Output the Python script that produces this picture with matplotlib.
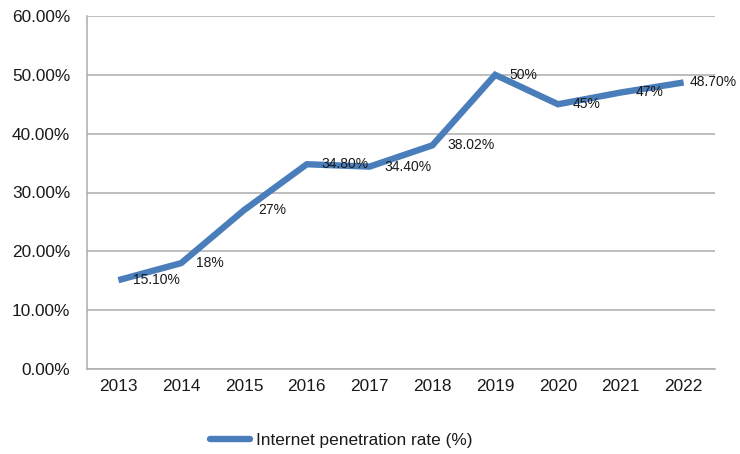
import matplotlib
matplotlib.use("Agg")
import matplotlib.pyplot as plt
from matplotlib.ticker import FuncFormatter

plt.rcParams['font.family'] = ['Liberation Sans', 'DejaVu Sans']

years = ["2013", "2014", "2015", "2016", "2017", "2018", "2019", "2020", "2021", "2022"]
rates = [15.10, 18, 27, 34.80, 34.40, 38.02, 50, 45, 47, 48.70]
point_labels = ["15.10%", "18%", "27%", "34.80%", "34.40%", "38.02%", "50%", "45%", "47%", "48.70%"]
series_name = "Internet penetration rate (%)"

line_color = "#4a7ebb"
grid_color = "#acacac"
text_color = "#1a1a1a"

fig = plt.figure(figsize=(7.4, 4.54), dpi=100)
ax = fig.add_axes([87 / 740, 1 - 369 / 454, (715 - 87) / 740, (369 - 16) / 454])

x = list(range(len(years)))
ax.plot(x, rates, color=line_color, linewidth=4.6, solid_capstyle='butt',
        solid_joinstyle='miter', label=series_name, zorder=3)

# value labels sit to the right of each point; the last one is pulled in
# so it stays inside the figure
for i, (xi, yi, lab) in enumerate(zip(x, rates, point_labels)):
    dx = 4.5 if i == len(x) - 1 else 10.5
    ax.annotate(lab, (xi, yi), xytext=(dx, 0), textcoords='offset points',
                ha='left', va='center', fontsize=10, color=text_color, zorder=4)

ax.set_xlim(-0.5, len(years) - 0.5)
ax.set_ylim(0, 60)
ax.set_yticks(range(0, 61, 10))
ax.yaxis.set_major_formatter(FuncFormatter(lambda v, _: f"{v:.2f}%"))
ax.set_xticks(x)
ax.set_xticklabels(years)

ax.grid(axis='y', color=grid_color, linewidth=1.1)
ax.set_axisbelow(True)
for side in ('top', 'right'):
    ax.spines[side].set_visible(False)
for side in ('left', 'bottom'):
    ax.spines[side].set_color(grid_color)
    ax.spines[side].set_linewidth(1.1)

ax.tick_params(axis='both', length=0, labelsize=12.4, labelcolor=text_color)
ax.tick_params(axis='y', pad=12)
ax.tick_params(axis='x', pad=7)

leg = fig.legend(loc='center left', bbox_to_anchor=(210 / 740, 1 - 440 / 454),
                 frameon=False, fontsize=12.4, handlelength=2.3, handletextpad=0.4,
                 borderpad=0, borderaxespad=0)
for h in leg.get_lines():
    h.set_solid_capstyle('round')
    h.set_linewidth(4.6)
for t in leg.get_texts():
    t.set_color(text_color)

fig.savefig("out.png", dpi=100, facecolor='white')
